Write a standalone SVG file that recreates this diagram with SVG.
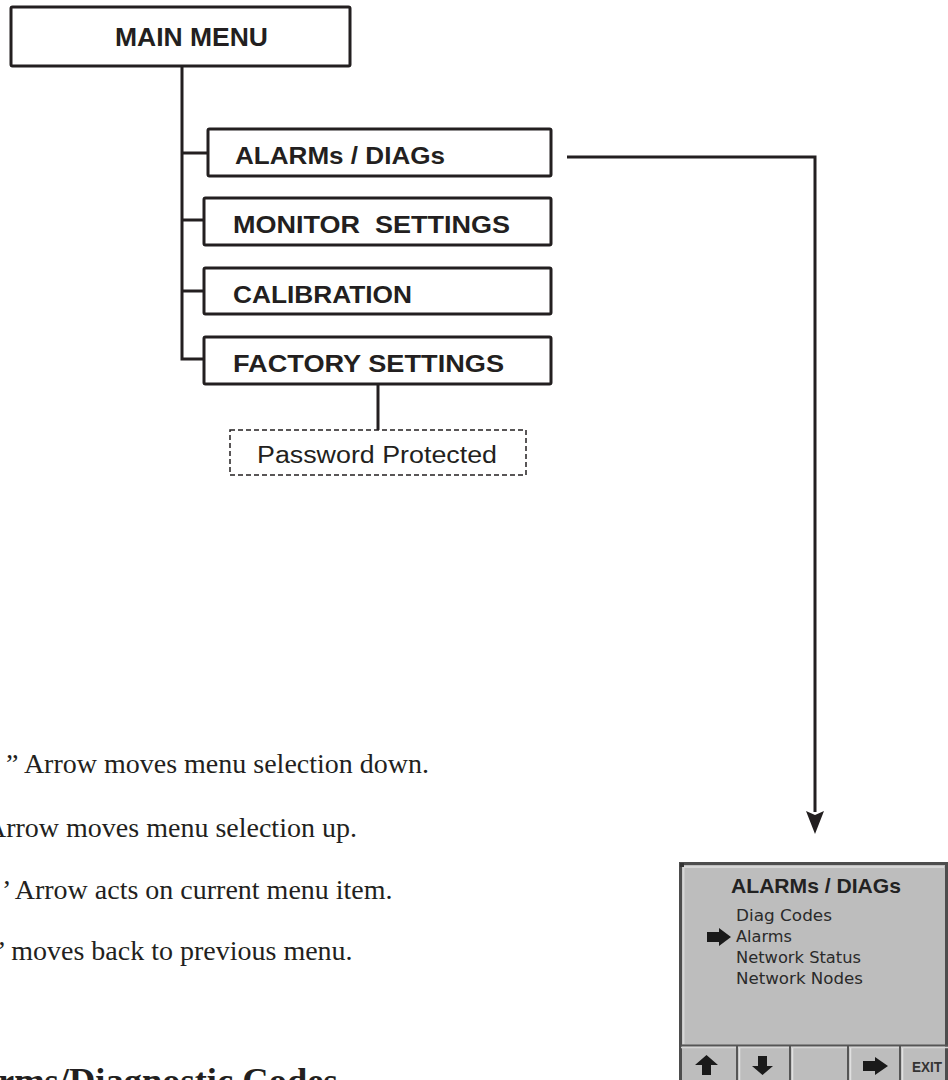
<svg xmlns="http://www.w3.org/2000/svg" width="948" height="1080" viewBox="0 0 948 1080">
<style>
.box{fill:#fff;stroke:#231f20;stroke-width:3;}
.lbl{font-family:"Liberation Sans",Arial,sans-serif;font-weight:bold;font-size:24px;fill:#231f20;}
.ln{fill:none;stroke:#231f20;stroke-width:3;}
.tm{font-family:"Liberation Serif","Times New Roman",serif;font-size:28px;fill:#231f20;}
.scr{font-family:"DejaVu Sans","Liberation Sans",sans-serif;font-size:15.5px;fill:#2a2a2a;}
.ico{fill:#1a1a1a;}
</style>

<g id="connectors">
<path class="ln" d="M182,66 V359 H204"/>
<path class="ln" d="M182,153 H208"/>
<path class="ln" d="M182,220 H204"/>
<path class="ln" d="M182,291 H204"/>
<path class="ln" d="M378,384 V430"/>
<path class="ln" d="M567,157 H815 V812"/>
<path d="M806,811 L815,815 L824,811 L815,834 Z" fill="#231f20"/>
</g>

<g id="main-menu">
<rect class="box" x="11" y="7" width="339" height="59" rx="1.5"/>
<text class="lbl" x="115" y="46" style="font-size:25px" textLength="153" lengthAdjust="spacingAndGlyphs">MAIN MENU</text>
</g>
<g id="alarms-diags">
<rect class="box" x="208" y="129" width="343" height="47" rx="1.5"/>
<text class="lbl" x="235" y="164" textLength="210" lengthAdjust="spacingAndGlyphs">ALARMs / DIAGs</text>
</g>
<g id="monitor-settings">
<rect class="box" x="204" y="198" width="347" height="47" rx="1.5"/>
<text class="lbl" x="233" y="233" textLength="277" lengthAdjust="spacingAndGlyphs" xml:space="preserve">MONITOR  SETTINGS</text>
</g>
<g id="calibration">
<rect class="box" x="204" y="268" width="347" height="46" rx="1.5"/>
<text class="lbl" x="233" y="303" textLength="179" lengthAdjust="spacingAndGlyphs">CALIBRATION</text>
</g>
<g id="factory-settings">
<rect class="box" x="204" y="337" width="347" height="47" rx="1.5"/>
<text class="lbl" x="233" y="372" textLength="271" lengthAdjust="spacingAndGlyphs">FACTORY SETTINGS</text>
</g>
<g id="password-protected">
<rect x="230" y="430" width="296" height="45" fill="#fff" stroke="#231f20" stroke-width="1.5" stroke-dasharray="5 3"/>
<text class="lbl" x="257" y="463" style="font-weight:normal;font-size:23px" textLength="240" lengthAdjust="spacingAndGlyphs">Password Protected</text>
</g>

<g id="notes">
<text class="tm" x="6" y="773">” Arrow moves menu selection down.</text>
<text class="tm" x="-14" y="837">Arrow moves menu selection up.</text>
<text class="tm" x="2" y="899">’ Arrow acts on current menu item.</text>
<text class="tm" x="-3" y="960">’ moves back to previous menu.</text>
<text class="tm" x="-2" y="1093" style="font-size:36.5px;font-weight:bold">rms/Diagnostic Codes</text>
</g>

<g id="screen">
<rect x="679" y="862" width="269" height="220" fill="#bdbdbd"/>
<path d="M680.5,1080 V863.5 H946.5 V1080" fill="none" stroke="#4d4d4d" stroke-width="3"/>
<path d="M683.5,1044 V867 H944" fill="none" stroke="#d6d6d6" stroke-width="2"/>
<rect x="680" y="863" width="4" height="4" fill="#333"/>
<text x="731" y="893" font-family="Liberation Sans,Arial,sans-serif" font-weight="bold" font-size="21" fill="#222" textLength="170" lengthAdjust="spacingAndGlyphs">ALARMs / DIAGs</text>
<text class="scr" x="736" y="921" textLength="96" lengthAdjust="spacingAndGlyphs">Diag Codes</text>
<text class="scr" x="736" y="942" textLength="56" lengthAdjust="spacingAndGlyphs">Alarms</text>
<text class="scr" x="736" y="963" textLength="125" lengthAdjust="spacingAndGlyphs">Network Status</text>
<text class="scr" x="736" y="984" textLength="127" lengthAdjust="spacingAndGlyphs">Network Nodes</text>
<path class="ico" d="M707,932 H719 V928 L731,937 L719,946 V942 H707 Z"/>
<path d="M681,1045.5 H948" stroke="#555" stroke-width="2"/>
<path d="M681,1047.5 H948" stroke="#d6d6d6" stroke-width="1.5"/>
<g stroke="#555" stroke-width="2">
<path d="M737,1046 V1080"/>
<path d="M790,1046 V1080"/>
<path d="M848,1046 V1080"/>
<path d="M900,1046 V1080"/>
</g>
<g stroke="#e0e0e0" stroke-width="1.5">
<path d="M739.5,1048 V1080"/>
<path d="M792.5,1048 V1080"/>
<path d="M850.5,1048 V1080"/>
<path d="M902.5,1048 V1080"/>
</g>
<path class="ico" d="M706.5,1055 L718,1065 H711 V1075 H702 V1065 H695 Z"/>
<path class="ico" d="M758,1056 H767 V1066 H773 L762.5,1075 L752,1066 H758 Z"/>
<path class="ico" d="M863,1061 H875 V1057 L888,1066 L875,1075 V1071 H863 Z"/>
<text x="912" y="1072" font-family="Liberation Sans,Arial,sans-serif" font-weight="bold" font-size="15" fill="#333" textLength="30" lengthAdjust="spacingAndGlyphs">EXIT</text>
</g>
</svg>
